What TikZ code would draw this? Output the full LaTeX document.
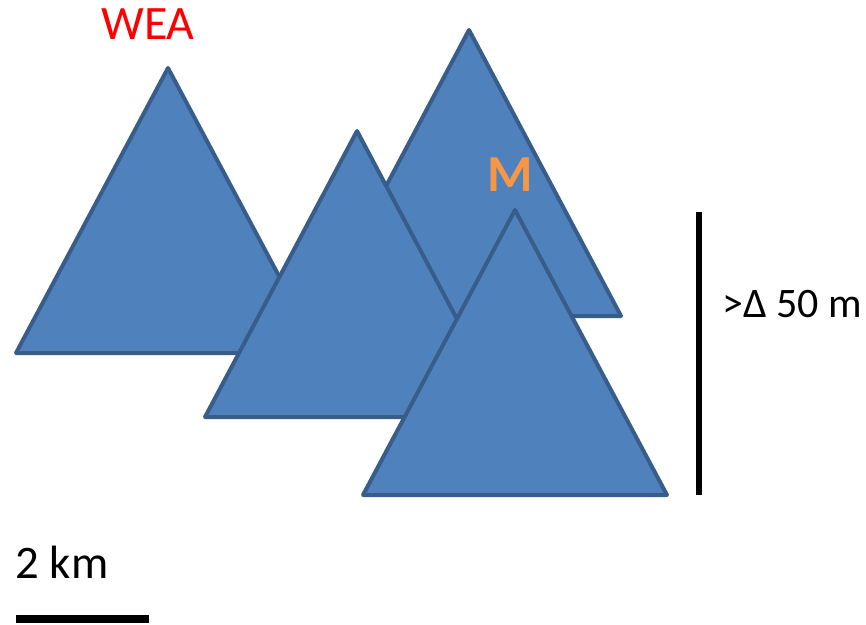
\documentclass[tikz,border=0pt]{standalone}
\usepackage{fontspec}
\setmainfont{Carlito}
\usepackage{tikz}
\usetikzlibrary{positioning}

\definecolor{bergfill}{HTML}{4F81BD}
\definecolor{bergrand}{HTML}{385D8A}
\definecolor{morange}{HTML}{F79646}

\begin{document}
\begin{tikzpicture}[
  x=0.75pt, y=-0.75pt,
  berg/.style={
    fill=bergfill,
    draw=bergrand,
    line width=3pt,
    line join=round
  },
  balken/.style={
    draw=black,
    line width=4.5pt
  },
  beschriftung/.style={
    inner sep=0pt,
    anchor=center
  }
]
  \useasboundingbox (0,0) rectangle (866,624);

  % Berge (von hinten nach vorne)
  \foreach \sx/\sy/\bx/\by in {168/68/16/353, 469/30/317/316, 357/131/205/417, 515/210/363/495} {
    \draw[berg] (\sx,\sy) -- (\bx,\by) -- ({2*\sx-\bx},\by) -- cycle;
  }

  % Beschriftungen
  \node[beschriftung, text=red, font=\fontsize{36}{40}\selectfont] (wea) at (148,24) {WEA};
  \node[beschriftung, text=morange, font=\bfseries\fontsize{39}{44}\selectfont] (m) at (510,175) {M};

  % Höhenbalken
  \coordinate (hoch) at (699,212);
  \coordinate (tief) at (699,495);
  \draw[balken] (hoch) -- (tief);
  \node[beschriftung, font=\fontsize{31.5}{36}\selectfont] (hoehe) at (792,304) {>Δ 50 m};

  % Maßstab
  \node[beschriftung, font=\fontsize{35}{40}\selectfont] (km) at (62,562) {2 km};
  \coordinate (ms1) at (16,619);
  \coordinate (ms2) at (149,619);
  \draw[line width=6pt] (ms1) -- (ms2);
\end{tikzpicture}
\end{document}
